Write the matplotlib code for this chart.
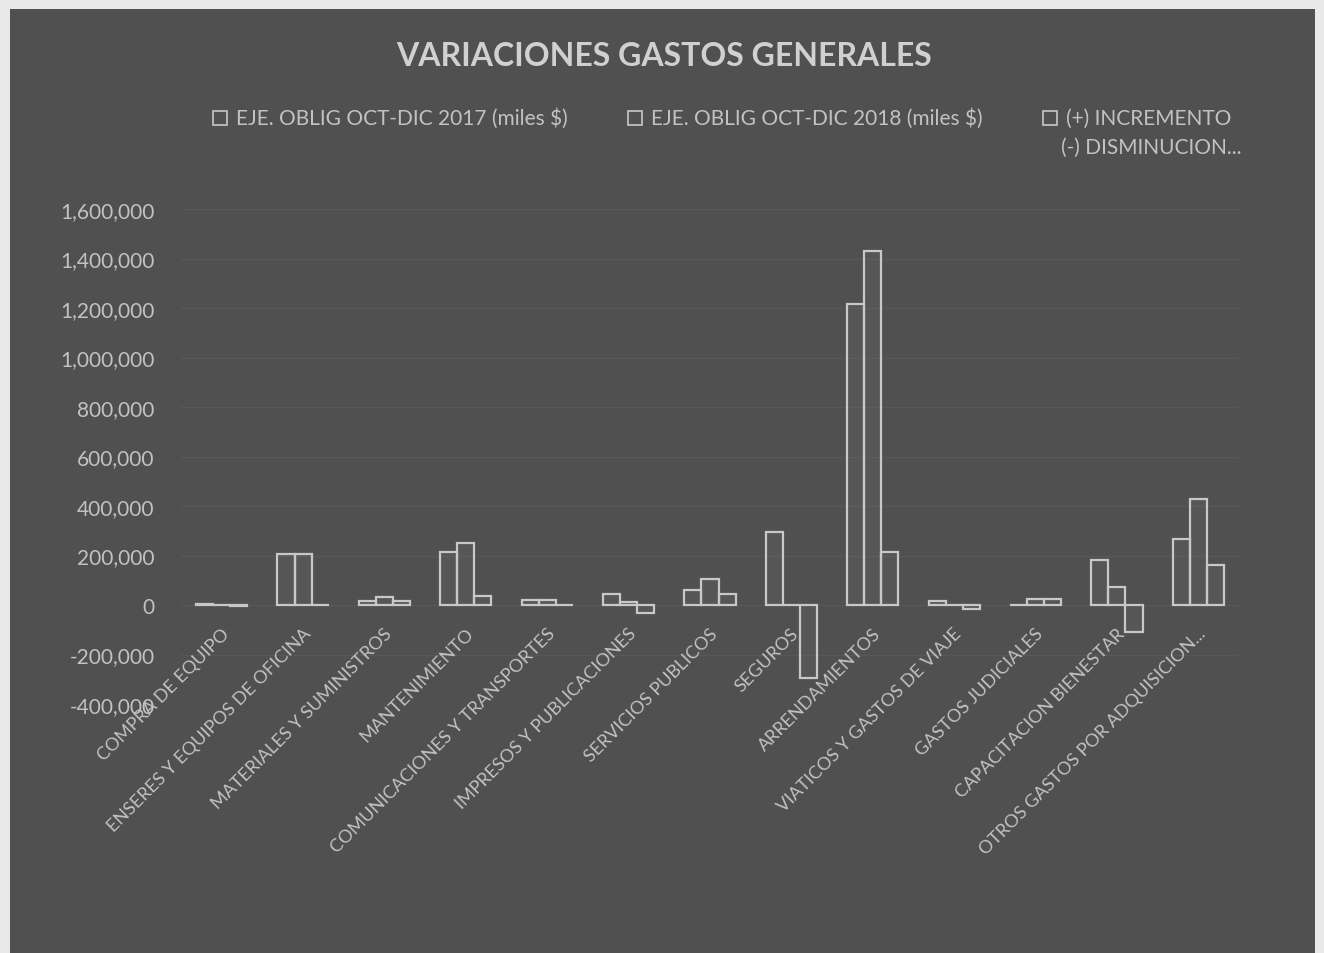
import matplotlib.pyplot as plt
from matplotlib.patches import Rectangle
from matplotlib.ticker import FuncFormatter, MultipleLocator
import numpy as np

plt.rcParams['font.family'] = ['Lato', 'DejaVu Sans']

categorias = [
    'COMPRA DE EQUIPO',
    'ENSERES Y EQUIPOS DE OFICINA',
    'MATERIALES Y SUMINISTROS',
    'MANTENIMIENTO',
    'COMUNICACIONES Y TRANSPORTES',
    'IMPRESOS Y PUBLICACIONES',
    'SERVICIOS PUBLICOS',
    'SEGUROS',
    'ARRENDAMIENTOS',
    'VIATICOS Y GASTOS DE VIAJE',
    'GASTOS JUDICIALES',
    'CAPACITACION BIENESTAR',
    'OTROS GASTOS POR ADQUISICION...',
]

# miles de $
eje_2017 = [4000, 205000, 18000, 214000, 22000, 45000, 60000,
            296000, 1215000, 18000, 500, 180000, 268000]
eje_2018 = [500, 206000, 33000, 250000, 20000, 13000, 106000,
            1000, 1430000, 500, 26000, 72000, 428000]
variacion = [-3500, 1000, 15000, 36000, -2000, -32000, 46000,
             -295000, 215000, -17500, 25500, -108000, 160000]

series = [eje_2017, eje_2018, variacion]
nombres = ['EJE. OBLIG OCT-DIC 2017 (miles $)',
           'EJE. OBLIG OCT-DIC 2018 (miles $)',
           '(+) INCREMENTO']

fondo = '#505050'
claro = '#c8c8c8'
texto = '#c2c2c2'

W, H = 1324, 954
fig = plt.figure(figsize=(W / 100, H / 100), dpi=100, facecolor='#e9e9e9')
# dark chart panel inside the light border
fig.patches.append(Rectangle((10 / W, 0), 1305 / W, 944 / H,
                             transform=fig.transFigure, facecolor=fondo,
                             edgecolor='none', zorder=-10))

ax = fig.add_axes([181 / W, 1 - 705 / H, 1058 / W, 495 / H])
ax.set_facecolor('none')

x = np.arange(len(categorias))
w = 0.21
for k, vals in enumerate(series):
    ax.bar(x + (k - 1) * w, vals, width=w, facecolor=(1, 1, 1, 0.04),
           edgecolor=claro, linewidth=1.6, zorder=3)

ax.set_xlim(-0.5, len(categorias) - 0.5)
ax.set_ylim(-400000, 1600000)
ax.yaxis.set_major_locator(MultipleLocator(200000))
ax.yaxis.set_major_formatter(FuncFormatter(lambda v, p: f'{v:,.0f}'))
ax.grid(axis='y', color='#585858', linewidth=1, zorder=0)
ax.tick_params(axis='y', length=0, pad=19, labelcolor=texto, labelsize=15)
ax.set_xticks([])
for s in ax.spines.values():
    s.set_visible(False)

for i, cat in enumerate(categorias):
    ax.text(i + 0.13, -80000, cat, rotation=45, ha='right', va='top',
            color=texto, fontsize=13)

fig.text(664 / W, 1 - 56 / H, 'VARIACIONES GASTOS GENERALES',
         ha='center', va='center', fontsize=23, fontweight='bold',
         color='#d0d0d0')

# legend drawn by hand to keep Excel's wrapped third entry
leg_x = [213, 628, 1043]
for lx, nombre in zip(leg_x, nombres):
    fig.patches.append(Rectangle((lx / W, 1 - 126 / H), 14 / W, 14 / H,
                                 transform=fig.transFigure, facecolor='none',
                                 edgecolor=claro, linewidth=1.2))
    fig.text((lx + 23) / W, 1 - 119 / H, nombre, ha='left', va='center',
             color=texto, fontsize=15)
fig.text(1061 / W, 1 - 148 / H, '(-) DISMINUCION...', ha='left',
         va='center', color=texto, fontsize=15)

fig.savefig('out.png', dpi=100, facecolor=fig.get_facecolor())
